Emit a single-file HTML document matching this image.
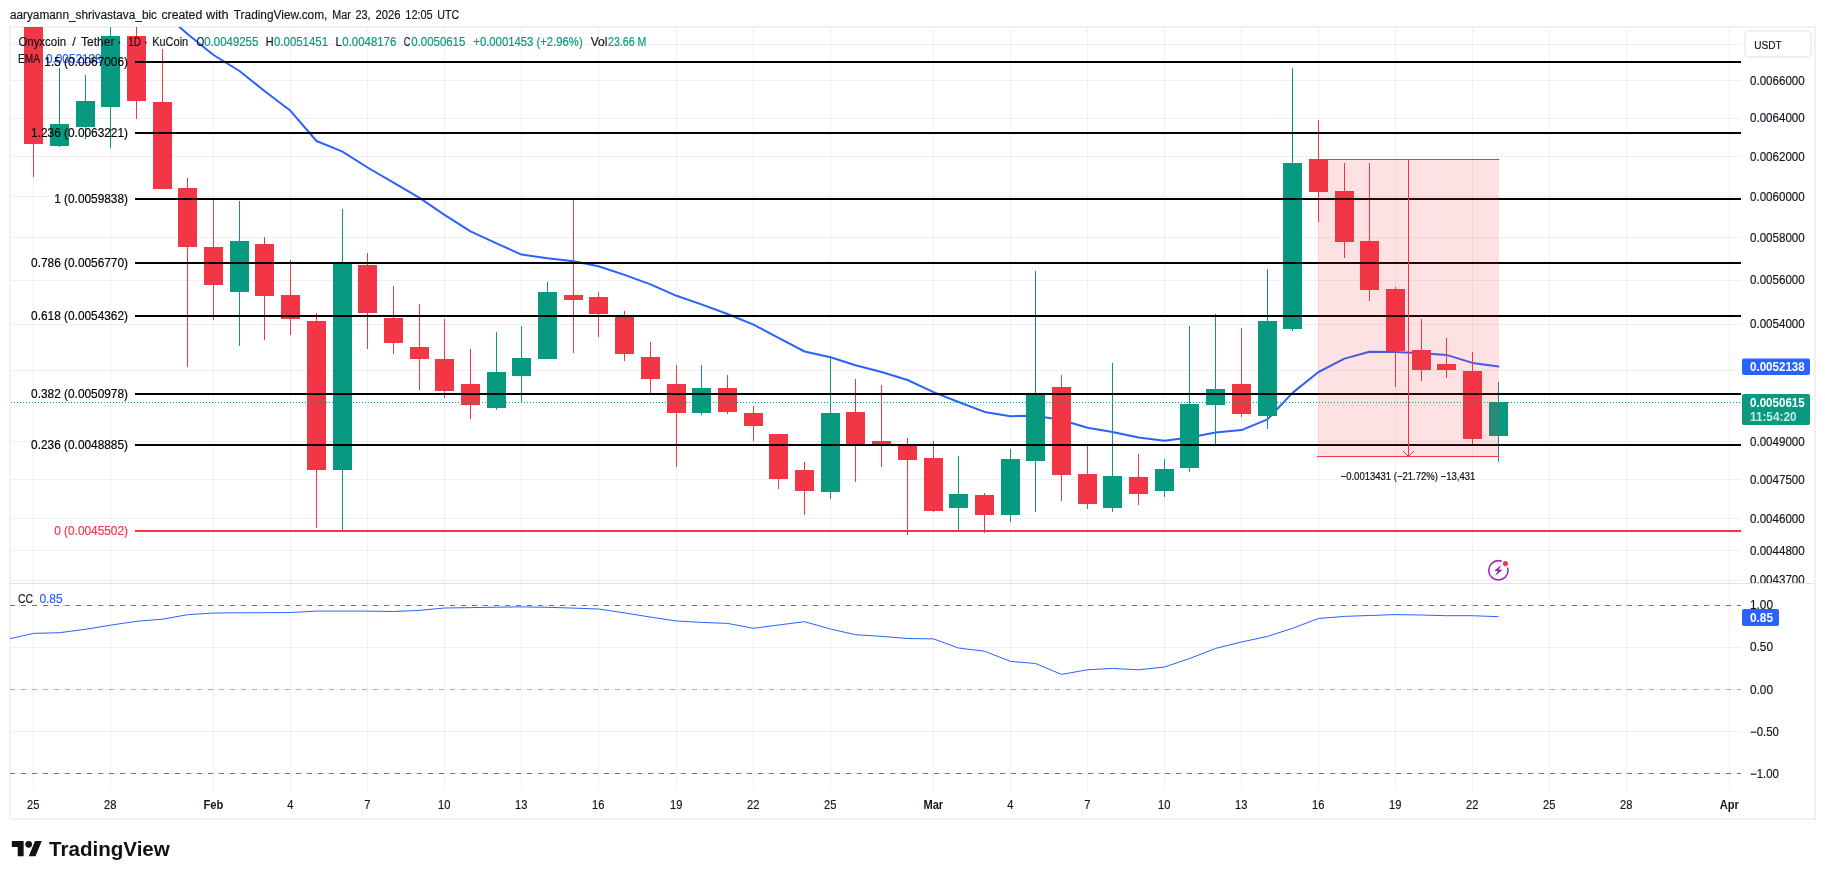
<!DOCTYPE html>
<html lang="en">
<head>
<meta charset="utf-8">
<title>ONYXCOIN / Tether chart</title>
<style>
html,body{margin:0;padding:0;background:#fff;}
body{width:1825px;height:879px;overflow:hidden;position:relative;font-family:"Liberation Sans",sans-serif;}
svg text{font-family:"Liberation Sans",sans-serif;}
</style>
</head>
<body>
<svg width="1825" height="879" viewBox="0 0 1825 879" style="position:absolute;left:0;top:0;display:block">
<defs>
<clipPath id="cm"><rect x="11" y="27" width="1730" height="556"/></clipPath>
<clipPath id="ca"><rect x="1741" y="28" width="74" height="555"/></clipPath>
<clipPath id="cc"><rect x="10" y="584" width="1731" height="208"/></clipPath>
</defs>
<rect width="1825" height="879" fill="#fff"/>
<g shape-rendering="crispEdges" fill="#1c2420" fill-opacity="0.062">
<rect x="33" y="28" width="1" height="763"/>
<rect x="110" y="28" width="1" height="763"/>
<rect x="213" y="28" width="1" height="763"/>
<rect x="290" y="28" width="1" height="763"/>
<rect x="367" y="28" width="1" height="763"/>
<rect x="444" y="28" width="1" height="763"/>
<rect x="521" y="28" width="1" height="763"/>
<rect x="598" y="28" width="1" height="763"/>
<rect x="676" y="28" width="1" height="763"/>
<rect x="753" y="28" width="1" height="763"/>
<rect x="830" y="28" width="1" height="763"/>
<rect x="933" y="28" width="1" height="763"/>
<rect x="1010" y="28" width="1" height="763"/>
<rect x="1087" y="28" width="1" height="763"/>
<rect x="1164" y="28" width="1" height="763"/>
<rect x="1241" y="28" width="1" height="763"/>
<rect x="1318" y="28" width="1" height="763"/>
<rect x="1395" y="28" width="1" height="763"/>
<rect x="1472" y="28" width="1" height="763"/>
<rect x="1549" y="28" width="1" height="763"/>
<rect x="1626" y="28" width="1" height="763"/>
<rect x="1729" y="28" width="1" height="763"/>
<rect x="11" y="44" width="1730" height="1"/>
<rect x="11" y="80" width="1730" height="1"/>
<rect x="11" y="118" width="1730" height="1"/>
<rect x="11" y="156" width="1730" height="1"/>
<rect x="11" y="196" width="1730" height="1"/>
<rect x="11" y="237" width="1730" height="1"/>
<rect x="11" y="280" width="1730" height="1"/>
<rect x="11" y="324" width="1730" height="1"/>
<rect x="11" y="370" width="1730" height="1"/>
<rect x="11" y="405" width="1730" height="1"/>
<rect x="11" y="441" width="1730" height="1"/>
<rect x="11" y="479" width="1730" height="1"/>
<rect x="11" y="518" width="1730" height="1"/>
<rect x="11" y="550" width="1730" height="1"/>
<rect x="11" y="580" width="1730" height="1"/>
<rect x="11" y="605" width="1730" height="1"/>
<rect x="11" y="647" width="1730" height="1"/>
<rect x="11" y="689" width="1730" height="1"/>
<rect x="11" y="731" width="1730" height="1"/>
<rect x="11" y="773" width="1730" height="1"/>
</g>
<g shape-rendering="crispEdges">
<rect x="10" y="583" width="1805" height="1" fill="#e0e3eb"/>
<rect x="9" y="26" width="1807" height="2" fill="#f1f1f2"/>
<rect x="9" y="818" width="1807" height="2" fill="#f1f1f2"/>
<rect x="9" y="27" width="2" height="792" fill="#f1f1f2"/>
<rect x="1814" y="27" width="2" height="792" fill="#f1f1f2"/>
</g>
<g clip-path="url(#cm)">
<polyline points="136.5,-10.0 162.5,12.0 187.5,34.0 213.5,55.0 239.5,71.0 264.5,91.0 290.5,110.8 316.5,141.0 342.5,151.7 367.5,167.5 393.5,182.7 419.5,197.9 444.5,214.8 470.5,231.4 496.5,243.3 521.5,254.6 547.5,258.3 573.5,261.2 598.5,266.2 624.5,274.9 650.5,284.4 676.5,295.8 701.5,304.4 727.5,314.0 753.5,324.7 778.5,337.9 804.5,351.5 830.5,357.2 855.5,365.2 881.5,372.0 907.5,380.0 933.5,392.1 958.5,402.0 984.5,411.9 1010.5,416.2 1035.5,415.8 1061.5,420.0 1087.5,427.8 1112.5,431.9 1138.5,437.6 1164.5,440.8 1189.5,437.6 1215.5,432.4 1241.5,430.1 1267.5,419.4 1292.5,392.9 1318.5,372.0 1344.5,358.6 1369.5,351.7 1395.5,352.0 1421.5,353.3 1446.5,354.9 1472.5,362.9 1498.5,366.5" fill="none" stroke="#2962ff" stroke-width="2" stroke-linejoin="round" stroke-linecap="round"/>
<g shape-rendering="crispEdges">
<rect x="33" y="20" width="1" height="157" fill="#f23645"/>
<rect x="24" y="20" width="19" height="124" fill="#f23645"/>
<rect x="59" y="68" width="1" height="79" fill="#089981"/>
<rect x="50" y="124" width="19" height="22" fill="#089981"/>
<rect x="85" y="75" width="1" height="64" fill="#089981"/>
<rect x="76" y="101" width="19" height="26" fill="#089981"/>
<rect x="110" y="20" width="1" height="128" fill="#089981"/>
<rect x="101" y="36" width="19" height="71" fill="#089981"/>
<rect x="136" y="20" width="1" height="99" fill="#f23645"/>
<rect x="127" y="36" width="19" height="65" fill="#f23645"/>
<rect x="162" y="49" width="1" height="140" fill="#f23645"/>
<rect x="153" y="102" width="19" height="87" fill="#f23645"/>
<rect x="187" y="178" width="1" height="189" fill="#f23645"/>
<rect x="178" y="188" width="19" height="59" fill="#f23645"/>
<rect x="213" y="199" width="1" height="121" fill="#f23645"/>
<rect x="204" y="247" width="19" height="38" fill="#f23645"/>
<rect x="239" y="201" width="1" height="145" fill="#089981"/>
<rect x="230" y="241" width="19" height="51" fill="#089981"/>
<rect x="264" y="237" width="1" height="103" fill="#f23645"/>
<rect x="255" y="244" width="19" height="52" fill="#f23645"/>
<rect x="290" y="260" width="1" height="75" fill="#f23645"/>
<rect x="281" y="295" width="19" height="24" fill="#f23645"/>
<rect x="316" y="313" width="1" height="215" fill="#f23645"/>
<rect x="307" y="321" width="19" height="149" fill="#f23645"/>
<rect x="342" y="209" width="1" height="321" fill="#089981"/>
<rect x="333" y="263" width="19" height="207" fill="#089981"/>
<rect x="367" y="253" width="1" height="96" fill="#f23645"/>
<rect x="358" y="265" width="19" height="48" fill="#f23645"/>
<rect x="393" y="286" width="1" height="68" fill="#f23645"/>
<rect x="384" y="318" width="19" height="25" fill="#f23645"/>
<rect x="419" y="304" width="1" height="86" fill="#f23645"/>
<rect x="410" y="347" width="19" height="12" fill="#f23645"/>
<rect x="444" y="319" width="1" height="79" fill="#f23645"/>
<rect x="435" y="359" width="19" height="32" fill="#f23645"/>
<rect x="470" y="349" width="1" height="70" fill="#f23645"/>
<rect x="461" y="384" width="19" height="21" fill="#f23645"/>
<rect x="496" y="332" width="1" height="78" fill="#089981"/>
<rect x="487" y="372" width="19" height="36" fill="#089981"/>
<rect x="521" y="326" width="1" height="76" fill="#089981"/>
<rect x="512" y="358" width="19" height="18" fill="#089981"/>
<rect x="547" y="282" width="1" height="77" fill="#089981"/>
<rect x="538" y="292" width="19" height="67" fill="#089981"/>
<rect x="573" y="200" width="1" height="153" fill="#f23645"/>
<rect x="564" y="295" width="19" height="5" fill="#f23645"/>
<rect x="598" y="292" width="1" height="45" fill="#f23645"/>
<rect x="589" y="297" width="19" height="17" fill="#f23645"/>
<rect x="624" y="311" width="1" height="50" fill="#f23645"/>
<rect x="615" y="316" width="19" height="38" fill="#f23645"/>
<rect x="650" y="342" width="1" height="51" fill="#f23645"/>
<rect x="641" y="357" width="19" height="22" fill="#f23645"/>
<rect x="676" y="365" width="1" height="102" fill="#f23645"/>
<rect x="667" y="384" width="19" height="29" fill="#f23645"/>
<rect x="701" y="365" width="1" height="50" fill="#089981"/>
<rect x="692" y="388" width="19" height="25" fill="#089981"/>
<rect x="727" y="375" width="1" height="39" fill="#f23645"/>
<rect x="718" y="388" width="19" height="24" fill="#f23645"/>
<rect x="753" y="406" width="1" height="35" fill="#f23645"/>
<rect x="744" y="413" width="19" height="13" fill="#f23645"/>
<rect x="778" y="434" width="1" height="55" fill="#f23645"/>
<rect x="769" y="434" width="19" height="45" fill="#f23645"/>
<rect x="804" y="462" width="1" height="53" fill="#f23645"/>
<rect x="795" y="470" width="19" height="21" fill="#f23645"/>
<rect x="830" y="356" width="1" height="143" fill="#089981"/>
<rect x="821" y="413" width="19" height="79" fill="#089981"/>
<rect x="855" y="379" width="1" height="103" fill="#f23645"/>
<rect x="846" y="412" width="19" height="32" fill="#f23645"/>
<rect x="881" y="385" width="1" height="82" fill="#f23645"/>
<rect x="872" y="441" width="19" height="3" fill="#f23645"/>
<rect x="907" y="438" width="1" height="97" fill="#f23645"/>
<rect x="898" y="444" width="19" height="16" fill="#f23645"/>
<rect x="933" y="441" width="1" height="71" fill="#f23645"/>
<rect x="924" y="458" width="19" height="53" fill="#f23645"/>
<rect x="958" y="456" width="1" height="74" fill="#089981"/>
<rect x="949" y="494" width="19" height="14" fill="#089981"/>
<rect x="984" y="493" width="1" height="40" fill="#f23645"/>
<rect x="975" y="495" width="19" height="20" fill="#f23645"/>
<rect x="1010" y="449" width="1" height="73" fill="#089981"/>
<rect x="1001" y="459" width="19" height="56" fill="#089981"/>
<rect x="1035" y="271" width="1" height="241" fill="#089981"/>
<rect x="1026" y="394" width="19" height="67" fill="#089981"/>
<rect x="1061" y="375" width="1" height="126" fill="#f23645"/>
<rect x="1052" y="387" width="19" height="88" fill="#f23645"/>
<rect x="1087" y="445" width="1" height="64" fill="#f23645"/>
<rect x="1078" y="474" width="19" height="30" fill="#f23645"/>
<rect x="1112" y="363" width="1" height="149" fill="#089981"/>
<rect x="1103" y="476" width="19" height="32" fill="#089981"/>
<rect x="1138" y="454" width="1" height="51" fill="#f23645"/>
<rect x="1129" y="477" width="19" height="17" fill="#f23645"/>
<rect x="1164" y="459" width="1" height="38" fill="#089981"/>
<rect x="1155" y="469" width="19" height="22" fill="#089981"/>
<rect x="1189" y="326" width="1" height="146" fill="#089981"/>
<rect x="1180" y="404" width="19" height="64" fill="#089981"/>
<rect x="1215" y="314" width="1" height="130" fill="#089981"/>
<rect x="1206" y="389" width="19" height="16" fill="#089981"/>
<rect x="1241" y="328" width="1" height="89" fill="#f23645"/>
<rect x="1232" y="384" width="19" height="30" fill="#f23645"/>
<rect x="1267" y="269" width="1" height="160" fill="#089981"/>
<rect x="1258" y="321" width="19" height="95" fill="#089981"/>
<rect x="1292" y="68" width="1" height="263" fill="#089981"/>
<rect x="1283" y="163" width="19" height="166" fill="#089981"/>
<rect x="1318" y="120" width="1" height="102" fill="#f23645"/>
<rect x="1309" y="159" width="19" height="33" fill="#f23645"/>
<rect x="1344" y="163" width="1" height="95" fill="#f23645"/>
<rect x="1335" y="191" width="19" height="51" fill="#f23645"/>
<rect x="1369" y="163" width="1" height="138" fill="#f23645"/>
<rect x="1360" y="241" width="19" height="49" fill="#f23645"/>
<rect x="1395" y="287" width="1" height="100" fill="#f23645"/>
<rect x="1386" y="289" width="19" height="62" fill="#f23645"/>
<rect x="1421" y="319" width="1" height="62" fill="#f23645"/>
<rect x="1412" y="350" width="19" height="20" fill="#f23645"/>
<rect x="1446" y="338" width="1" height="40" fill="#f23645"/>
<rect x="1437" y="364" width="19" height="6" fill="#f23645"/>
<rect x="1472" y="352" width="1" height="92" fill="#f23645"/>
<rect x="1463" y="371" width="19" height="68" fill="#f23645"/>
<rect x="1498" y="382" width="1" height="80" fill="#089981"/>
<rect x="1489" y="402" width="19" height="34" fill="#089981"/>
</g>
<g shape-rendering="crispEdges">
<rect x="135" y="61" width="1606" height="2" fill="#000"/>
<rect x="135" y="132" width="1606" height="2" fill="#000"/>
<rect x="135" y="198" width="1606" height="2" fill="#000"/>
<rect x="135" y="262" width="1606" height="2" fill="#000"/>
<rect x="135" y="315" width="1606" height="2" fill="#000"/>
<rect x="135" y="393" width="1606" height="2" fill="#000"/>
<rect x="135" y="444" width="1606" height="2" fill="#000"/>
<rect x="135" y="530" width="1606" height="2" fill="#f23645"/>
</g>
<line x1="11" y1="402.5" x2="1741" y2="402.5" stroke="#089981" stroke-width="1" stroke-dasharray="1 2" shape-rendering="crispEdges"/>
<rect x="1318" y="159" width="181" height="297" fill="#f23645" fill-opacity="0.15"/>
<g shape-rendering="crispEdges" fill="#f23645">
<rect x="1318" y="159" width="181" height="1"/>
<rect x="1317" y="456" width="182" height="1"/>
<rect x="1408" y="159" width="1" height="297"/>
</g>
<path d="M1403 451 L1408.5 456.5 L1414 451" fill="none" stroke="#f23645" stroke-width="1"/>
</g>
<g clip-path="url(#cc)">
<line x1="10" y1="605.5" x2="1741" y2="605.5" stroke="#737476" stroke-width="1" stroke-dasharray="5 6" shape-rendering="crispEdges"/>
<line x1="10" y1="689.5" x2="1741" y2="689.5" stroke="#adaeb0" stroke-width="1" stroke-dasharray="5 6" shape-rendering="crispEdges"/>
<line x1="10" y1="773.5" x2="1741" y2="773.5" stroke="#737476" stroke-width="1" stroke-dasharray="5 6" shape-rendering="crispEdges"/>
<polyline points="10.0,638.7 33.5,633.4 59.5,632.7 85.5,629.3 110.5,625.2 136.5,621.3 162.5,619.2 187.5,614.7 213.5,613.0 239.5,612.8 264.5,612.7 290.5,612.5 316.5,611.1 342.5,611.1 367.5,611.1 393.5,611.5 419.5,610.4 444.5,608.0 470.5,607.6 496.5,607.2 521.5,606.9 547.5,607.3 573.5,608.1 598.5,609.0 624.5,612.9 650.5,617.1 676.5,621.0 701.5,622.4 727.5,623.4 753.5,628.3 778.5,625.0 804.5,621.7 830.5,629.0 855.5,634.7 881.5,636.4 907.5,638.5 933.5,638.9 958.5,648.0 984.5,651.2 1010.5,661.4 1035.5,663.5 1061.5,674.4 1087.5,669.8 1112.5,668.4 1138.5,669.8 1164.5,667.0 1189.5,658.6 1215.5,648.4 1241.5,642.0 1267.5,636.4 1292.5,628.3 1318.5,618.5 1344.5,616.4 1369.5,615.5 1395.5,614.6 1421.5,615.0 1446.5,615.7 1472.5,615.7 1498.5,616.7" fill="none" stroke="#2962ff" stroke-width="1" stroke-linejoin="round"/>
</g>
<g font-family="'Liberation Sans', sans-serif" style="white-space:pre" opacity="0.999">
<text x="9.9" y="19.0" font-size="12.5" fill="#131722" text-anchor="start" font-weight="normal" textLength="147.1" lengthAdjust="spacingAndGlyphs" stroke="#131722" stroke-width="0.18">aaryamann_shrivastava_bic</text>
<text x="161.5" y="19.0" font-size="12.5" fill="#131722" text-anchor="start" font-weight="normal" textLength="40.7" lengthAdjust="spacingAndGlyphs" stroke="#131722" stroke-width="0.18">created</text>
<text x="206.0" y="19.0" font-size="12.5" fill="#131722" text-anchor="start" font-weight="normal" textLength="22.7" lengthAdjust="spacingAndGlyphs" stroke="#131722" stroke-width="0.18">with</text>
<text x="233.8" y="19.0" font-size="12.5" fill="#131722" text-anchor="start" font-weight="normal" textLength="93.6" lengthAdjust="spacingAndGlyphs" stroke="#131722" stroke-width="0.18">TradingView.com,</text>
<text x="332.2" y="19.0" font-size="12.5" fill="#131722" text-anchor="start" font-weight="normal" textLength="18.6" lengthAdjust="spacingAndGlyphs" stroke="#131722" stroke-width="0.18">Mar</text>
<text x="355.4" y="19.0" font-size="12.5" fill="#131722" text-anchor="start" font-weight="normal" textLength="15.2" lengthAdjust="spacingAndGlyphs" stroke="#131722" stroke-width="0.18">23,</text>
<text x="375.5" y="19.0" font-size="12.5" fill="#131722" text-anchor="start" font-weight="normal" textLength="25.0" lengthAdjust="spacingAndGlyphs" stroke="#131722" stroke-width="0.18">2026</text>
<text x="405.3" y="19.0" font-size="12.5" fill="#131722" text-anchor="start" font-weight="normal" textLength="27.4" lengthAdjust="spacingAndGlyphs" stroke="#131722" stroke-width="0.18">12:05</text>
<text x="437.3" y="19.0" font-size="12.5" fill="#131722" text-anchor="start" font-weight="normal" textLength="21.9" lengthAdjust="spacingAndGlyphs" stroke="#131722" stroke-width="0.18">UTC</text>
<text x="18.4" y="46.0" font-size="12" fill="#131722" text-anchor="start" font-weight="normal" textLength="47.7" lengthAdjust="spacingAndGlyphs" stroke="#131722" stroke-width="0.18">Onyxcoin</text>
<text x="74.0" y="46.0" font-size="12.5" fill="#131722" text-anchor="middle" font-weight="normal" stroke="#131722" stroke-width="0.18">/</text>
<text x="81.0" y="46.0" font-size="12" fill="#131722" text-anchor="start" font-weight="normal" textLength="33.6" lengthAdjust="spacingAndGlyphs" stroke="#131722" stroke-width="0.18">Tether</text>
<text x="119.4" y="46.0" font-size="12" fill="#131722" text-anchor="middle" font-weight="normal" stroke="#131722" stroke-width="0.18">·</text>
<text x="128.2" y="46.0" font-size="12" fill="#131722" text-anchor="start" font-weight="normal" textLength="12.6" lengthAdjust="spacingAndGlyphs" stroke="#131722" stroke-width="0.18">1D</text>
<text x="146.1" y="46.0" font-size="12" fill="#131722" text-anchor="middle" font-weight="normal" stroke="#131722" stroke-width="0.18">·</text>
<text x="152.2" y="46.0" font-size="12" fill="#131722" text-anchor="start" font-weight="normal" textLength="36.0" lengthAdjust="spacingAndGlyphs" stroke="#131722" stroke-width="0.18">KuCoin</text>
<text x="196.6" y="46.0" font-size="12" fill="#131722" text-anchor="start" font-weight="normal" textLength="7.8" lengthAdjust="spacingAndGlyphs" stroke="#131722" stroke-width="0.18">O</text>
<text x="204.3" y="46.0" font-size="12" fill="#089981" text-anchor="start" font-weight="normal" textLength="54.0" lengthAdjust="spacingAndGlyphs" stroke="#089981" stroke-width="0.18">0.0049255</text>
<text x="265.8" y="46.0" font-size="12" fill="#131722" text-anchor="start" font-weight="normal" textLength="7.9" lengthAdjust="spacingAndGlyphs" stroke="#131722" stroke-width="0.18">H</text>
<text x="274.0" y="46.0" font-size="12" fill="#089981" text-anchor="start" font-weight="normal" textLength="54.0" lengthAdjust="spacingAndGlyphs" stroke="#089981" stroke-width="0.18">0.0051451</text>
<text x="335.6" y="46.0" font-size="12" fill="#131722" text-anchor="start" font-weight="normal" textLength="6.3" lengthAdjust="spacingAndGlyphs" stroke="#131722" stroke-width="0.18">L</text>
<text x="342.3" y="46.0" font-size="12" fill="#089981" text-anchor="start" font-weight="normal" textLength="54.0" lengthAdjust="spacingAndGlyphs" stroke="#089981" stroke-width="0.18">0.0048176</text>
<text x="403.7" y="46.0" font-size="12" fill="#131722" text-anchor="start" font-weight="normal" textLength="6.6" lengthAdjust="spacingAndGlyphs" stroke="#131722" stroke-width="0.18">C</text>
<text x="411.3" y="46.0" font-size="12" fill="#089981" text-anchor="start" font-weight="normal" textLength="54.0" lengthAdjust="spacingAndGlyphs" stroke="#089981" stroke-width="0.18">0.0050615</text>
<text x="473.3" y="46.0" font-size="12" fill="#089981" text-anchor="start" font-weight="normal" textLength="109.4" lengthAdjust="spacingAndGlyphs" stroke="#089981" stroke-width="0.18">+0.0001453 (+2.96%)</text>
<text x="590.7" y="46.0" font-size="12" fill="#131722" text-anchor="start" font-weight="normal" stroke="#131722" stroke-width="0.18">Vol</text>
<text x="608.0" y="46.0" font-size="12" fill="#089981" text-anchor="start" font-weight="normal" textLength="38.3" lengthAdjust="spacingAndGlyphs" stroke="#089981" stroke-width="0.18">23.66 M</text>
<text x="18.0" y="63.0" font-size="12" fill="#131722" text-anchor="start" font-weight="normal" textLength="22.0" lengthAdjust="spacingAndGlyphs" stroke="#131722" stroke-width="0.18">EMA</text>
<text x="46.0" y="63.0" font-size="12" fill="#2962ff" text-anchor="start" font-weight="normal" textLength="55.6" lengthAdjust="spacingAndGlyphs" stroke="#2962ff" stroke-width="0.18">0.0052138</text>
<text x="44.3" y="66.3" font-size="12" fill="#000" text-anchor="start" font-weight="normal" textLength="83.7" lengthAdjust="spacingAndGlyphs" stroke="#000" stroke-width="0.18">1.5 (0.0067006)</text>
<text x="31.1" y="137.3" font-size="12" fill="#000" text-anchor="start" font-weight="normal" textLength="96.9" lengthAdjust="spacingAndGlyphs" stroke="#000" stroke-width="0.18">1.236 (0.0063221)</text>
<text x="54.2" y="203.3" font-size="12" fill="#000" text-anchor="start" font-weight="normal" textLength="73.8" lengthAdjust="spacingAndGlyphs" stroke="#000" stroke-width="0.18">1 (0.0059838)</text>
<text x="31.1" y="267.3" font-size="12" fill="#000" text-anchor="start" font-weight="normal" textLength="96.9" lengthAdjust="spacingAndGlyphs" stroke="#000" stroke-width="0.18">0.786 (0.0056770)</text>
<text x="31.1" y="320.3" font-size="12" fill="#000" text-anchor="start" font-weight="normal" textLength="96.9" lengthAdjust="spacingAndGlyphs" stroke="#000" stroke-width="0.18">0.618 (0.0054362)</text>
<text x="31.1" y="398.3" font-size="12" fill="#000" text-anchor="start" font-weight="normal" textLength="96.9" lengthAdjust="spacingAndGlyphs" stroke="#000" stroke-width="0.18">0.382 (0.0050978)</text>
<text x="31.1" y="449.3" font-size="12" fill="#000" text-anchor="start" font-weight="normal" textLength="96.9" lengthAdjust="spacingAndGlyphs" stroke="#000" stroke-width="0.18">0.236 (0.0048885)</text>
<text x="54.2" y="535.3" font-size="12" fill="#f23645" text-anchor="start" font-weight="normal" textLength="73.8" lengthAdjust="spacingAndGlyphs" stroke="#f23645" stroke-width="0.18">0 (0.0045502)</text>
<text x="1340.6" y="480.0" font-size="10.4" fill="#0b0c10" text-anchor="start" font-weight="normal" textLength="134.7" lengthAdjust="spacingAndGlyphs" stroke="#0b0c10" stroke-width="0.18">−0.0013431 (−21.72%) −13,431</text>
<text x="17.9" y="603.0" font-size="12" fill="#131722" text-anchor="start" font-weight="normal" textLength="15.0" lengthAdjust="spacingAndGlyphs" stroke="#131722" stroke-width="0.18">CC</text>
<text x="39.4" y="603.0" font-size="12" fill="#2962ff" text-anchor="start" font-weight="normal" textLength="23.2" lengthAdjust="spacingAndGlyphs" stroke="#2962ff" stroke-width="0.18">0.85</text>
<g clip-path="url(#ca)">
<text x="1750.0" y="84.9" font-size="12" fill="#131722" text-anchor="start" font-weight="normal" textLength="54.7" lengthAdjust="spacingAndGlyphs" stroke="#131722" stroke-width="0.18">0.0066000</text>
<text x="1750.0" y="122.0" font-size="12" fill="#131722" text-anchor="start" font-weight="normal" textLength="54.7" lengthAdjust="spacingAndGlyphs" stroke="#131722" stroke-width="0.18">0.0064000</text>
<text x="1750.0" y="160.9" font-size="12" fill="#131722" text-anchor="start" font-weight="normal" textLength="54.7" lengthAdjust="spacingAndGlyphs" stroke="#131722" stroke-width="0.18">0.0062000</text>
<text x="1750.0" y="200.7" font-size="12" fill="#131722" text-anchor="start" font-weight="normal" textLength="54.7" lengthAdjust="spacingAndGlyphs" stroke="#131722" stroke-width="0.18">0.0060000</text>
<text x="1750.0" y="241.7" font-size="12" fill="#131722" text-anchor="start" font-weight="normal" textLength="54.7" lengthAdjust="spacingAndGlyphs" stroke="#131722" stroke-width="0.18">0.0058000</text>
<text x="1750.0" y="284.1" font-size="12" fill="#131722" text-anchor="start" font-weight="normal" textLength="54.7" lengthAdjust="spacingAndGlyphs" stroke="#131722" stroke-width="0.18">0.0056000</text>
<text x="1750.0" y="327.9" font-size="12" fill="#131722" text-anchor="start" font-weight="normal" textLength="54.7" lengthAdjust="spacingAndGlyphs" stroke="#131722" stroke-width="0.18">0.0054000</text>
<text x="1750.0" y="445.9" font-size="12" fill="#131722" text-anchor="start" font-weight="normal" textLength="54.7" lengthAdjust="spacingAndGlyphs" stroke="#131722" stroke-width="0.18">0.0049000</text>
<text x="1750.0" y="483.9" font-size="12" fill="#131722" text-anchor="start" font-weight="normal" textLength="54.7" lengthAdjust="spacingAndGlyphs" stroke="#131722" stroke-width="0.18">0.0047500</text>
<text x="1750.0" y="523.1" font-size="12" fill="#131722" text-anchor="start" font-weight="normal" textLength="54.7" lengthAdjust="spacingAndGlyphs" stroke="#131722" stroke-width="0.18">0.0046000</text>
<text x="1750.0" y="554.9" font-size="12" fill="#131722" text-anchor="start" font-weight="normal" textLength="54.7" lengthAdjust="spacingAndGlyphs" stroke="#131722" stroke-width="0.18">0.0044800</text>
<text x="1750.0" y="584.3" font-size="12" fill="#131722" text-anchor="start" font-weight="normal" textLength="54.7" lengthAdjust="spacingAndGlyphs" stroke="#131722" stroke-width="0.18">0.0043700</text>
</g>
<text x="1750.0" y="608.6" font-size="12" fill="#131722" text-anchor="start" font-weight="normal" textLength="23.0" lengthAdjust="spacingAndGlyphs" stroke="#131722" stroke-width="0.18">1.00</text>
<text x="1750.0" y="650.9" font-size="12" fill="#131722" text-anchor="start" font-weight="normal" textLength="23.0" lengthAdjust="spacingAndGlyphs" stroke="#131722" stroke-width="0.18">0.50</text>
<text x="1750.0" y="693.9" font-size="12" fill="#131722" text-anchor="start" font-weight="normal" textLength="23.0" lengthAdjust="spacingAndGlyphs" stroke="#131722" stroke-width="0.18">0.00</text>
<text x="1750.0" y="736.0" font-size="12" fill="#131722" text-anchor="start" font-weight="normal" textLength="29.0" lengthAdjust="spacingAndGlyphs" stroke="#131722" stroke-width="0.18">−0.50</text>
<text x="1750.0" y="778.0" font-size="12" fill="#131722" text-anchor="start" font-weight="normal" textLength="29.0" lengthAdjust="spacingAndGlyphs" stroke="#131722" stroke-width="0.18">−1.00</text>
<rect x="1742" y="358.5" width="68" height="16.5" rx="2" fill="#2962ff"/>
<text x="1750.0" y="371.1" font-size="12" fill="#fff" text-anchor="start" font-weight="bold" textLength="54.7" lengthAdjust="spacingAndGlyphs">0.0052138</text>
<rect x="1742" y="394" width="68" height="31" rx="2" fill="#089981"/>
<text x="1750.0" y="406.6" font-size="12" fill="#fff" text-anchor="start" font-weight="bold" textLength="54.7" lengthAdjust="spacingAndGlyphs">0.0050615</text>
<text x="1750.0" y="420.6" font-size="12" fill="#fff" text-anchor="start" font-weight="bold" textLength="46.5" lengthAdjust="spacingAndGlyphs" fill-opacity="0.78">11:54:20</text>
<rect x="1742" y="609" width="37" height="17" rx="2" fill="#2962ff"/>
<text x="1750.0" y="621.8" font-size="12" fill="#fff" text-anchor="start" font-weight="bold" textLength="23.0" lengthAdjust="spacingAndGlyphs">0.85</text>
<rect x="1745" y="31" width="66" height="26" rx="4" fill="#fff" stroke="#f0f0f1" stroke-width="2"/>
<text x="1754.2" y="48.8" font-size="11" fill="#131722" text-anchor="start" font-weight="normal" textLength="27.5" lengthAdjust="spacingAndGlyphs" stroke="#131722" stroke-width="0.18">USDT</text>
<text x="27.1" y="809.2" font-size="12" fill="#131722" text-anchor="start" font-weight="normal" textLength="12.4" lengthAdjust="spacingAndGlyphs" stroke="#131722" stroke-width="0.18">25</text>
<text x="104.1" y="809.2" font-size="12" fill="#131722" text-anchor="start" font-weight="normal" textLength="12.4" lengthAdjust="spacingAndGlyphs" stroke="#131722" stroke-width="0.18">28</text>
<text x="203.4" y="809.2" font-size="12" fill="#131722" text-anchor="start" font-weight="bold" textLength="19.8" lengthAdjust="spacingAndGlyphs">Feb</text>
<text x="287.2" y="809.2" font-size="12" fill="#131722" text-anchor="start" font-weight="normal" textLength="6.2" lengthAdjust="spacingAndGlyphs" stroke="#131722" stroke-width="0.18">4</text>
<text x="364.2" y="809.2" font-size="12" fill="#131722" text-anchor="start" font-weight="normal" textLength="6.2" lengthAdjust="spacingAndGlyphs" stroke="#131722" stroke-width="0.18">7</text>
<text x="438.1" y="809.2" font-size="12" fill="#131722" text-anchor="start" font-weight="normal" textLength="12.4" lengthAdjust="spacingAndGlyphs" stroke="#131722" stroke-width="0.18">10</text>
<text x="515.1" y="809.2" font-size="12" fill="#131722" text-anchor="start" font-weight="normal" textLength="12.4" lengthAdjust="spacingAndGlyphs" stroke="#131722" stroke-width="0.18">13</text>
<text x="592.1" y="809.2" font-size="12" fill="#131722" text-anchor="start" font-weight="normal" textLength="12.4" lengthAdjust="spacingAndGlyphs" stroke="#131722" stroke-width="0.18">16</text>
<text x="670.1" y="809.2" font-size="12" fill="#131722" text-anchor="start" font-weight="normal" textLength="12.4" lengthAdjust="spacingAndGlyphs" stroke="#131722" stroke-width="0.18">19</text>
<text x="747.1" y="809.2" font-size="12" fill="#131722" text-anchor="start" font-weight="normal" textLength="12.4" lengthAdjust="spacingAndGlyphs" stroke="#131722" stroke-width="0.18">22</text>
<text x="824.1" y="809.2" font-size="12" fill="#131722" text-anchor="start" font-weight="normal" textLength="12.4" lengthAdjust="spacingAndGlyphs" stroke="#131722" stroke-width="0.18">25</text>
<text x="923.4" y="809.2" font-size="12" fill="#131722" text-anchor="start" font-weight="bold" textLength="19.8" lengthAdjust="spacingAndGlyphs">Mar</text>
<text x="1007.2" y="809.2" font-size="12" fill="#131722" text-anchor="start" font-weight="normal" textLength="6.2" lengthAdjust="spacingAndGlyphs" stroke="#131722" stroke-width="0.18">4</text>
<text x="1084.2" y="809.2" font-size="12" fill="#131722" text-anchor="start" font-weight="normal" textLength="6.2" lengthAdjust="spacingAndGlyphs" stroke="#131722" stroke-width="0.18">7</text>
<text x="1158.1" y="809.2" font-size="12" fill="#131722" text-anchor="start" font-weight="normal" textLength="12.4" lengthAdjust="spacingAndGlyphs" stroke="#131722" stroke-width="0.18">10</text>
<text x="1235.1" y="809.2" font-size="12" fill="#131722" text-anchor="start" font-weight="normal" textLength="12.4" lengthAdjust="spacingAndGlyphs" stroke="#131722" stroke-width="0.18">13</text>
<text x="1312.1" y="809.2" font-size="12" fill="#131722" text-anchor="start" font-weight="normal" textLength="12.4" lengthAdjust="spacingAndGlyphs" stroke="#131722" stroke-width="0.18">16</text>
<text x="1389.1" y="809.2" font-size="12" fill="#131722" text-anchor="start" font-weight="normal" textLength="12.4" lengthAdjust="spacingAndGlyphs" stroke="#131722" stroke-width="0.18">19</text>
<text x="1466.1" y="809.2" font-size="12" fill="#131722" text-anchor="start" font-weight="normal" textLength="12.4" lengthAdjust="spacingAndGlyphs" stroke="#131722" stroke-width="0.18">22</text>
<text x="1543.1" y="809.2" font-size="12" fill="#131722" text-anchor="start" font-weight="normal" textLength="12.4" lengthAdjust="spacingAndGlyphs" stroke="#131722" stroke-width="0.18">25</text>
<text x="1620.1" y="809.2" font-size="12" fill="#131722" text-anchor="start" font-weight="normal" textLength="12.4" lengthAdjust="spacingAndGlyphs" stroke="#131722" stroke-width="0.18">28</text>
<text x="1719.7" y="809.2" font-size="12" fill="#131722" text-anchor="start" font-weight="bold" textLength="19.2" lengthAdjust="spacingAndGlyphs">Apr</text>
<g transform="translate(11.8,837.6) scale(0.845)" fill="#111"><path d="M14 22H7V11H0V4h14v18zM28 22h-8l7.5-18h8L28 22z"/><circle cx="20" cy="8" r="4"/></g>
<text x="49.0" y="856.0" font-size="20.3" fill="#111" text-anchor="start" font-weight="bold" textLength="120.8" lengthAdjust="spacingAndGlyphs">TradingView</text>
</g>
<g>
<circle cx="1498.4" cy="570.3" r="12" fill="#fff"/>
<circle cx="1498.4" cy="570.3" r="9.7" fill="none" stroke="#9c27b0" stroke-width="1.55"/>
<path d="M1500.9 565.1 L1494.3 570.95 L1497.7 570.95 L1495.2 576.0 L1502.6 569.85 L1499.1 569.85 Z" fill="#9c27b0"/>
<circle cx="1505.4" cy="563.6" r="4.5" fill="#fff"/>
<circle cx="1505.4" cy="563.6" r="2.55" fill="#f23645"/>
</g>
</svg>
</body>
</html>
